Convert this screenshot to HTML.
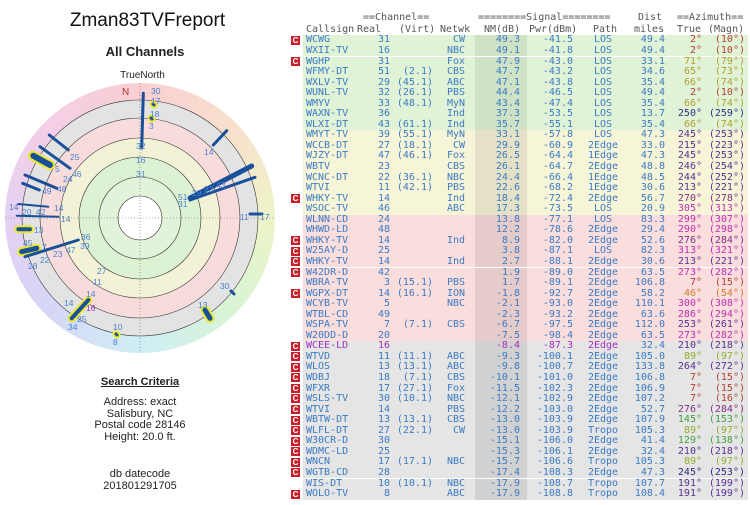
<!DOCTYPE html>
<html><head><meta charset="utf-8"><style>
*{margin:0;padding:0;box-sizing:border-box}
body{width:750px;height:505px;overflow:hidden;background:#fff;position:relative;font-family:"Liberation Sans",Arial,sans-serif}
.t{position:absolute;white-space:nowrap}
.tb{position:absolute;font-family:"DejaVu Sans Mono","Liberation Mono",monospace;font-size:10px;color:#555}
.r{position:absolute;left:303px;width:445px;height:10.55px;font-family:"DejaVu Sans Mono","Liberation Mono",monospace;font-size:10px;line-height:10.55px;color:#3b7bc4}
.r span{position:absolute;top:0;white-space:nowrap}
.r::before{content:"";position:absolute;left:172px;width:52px;top:0;height:100%}
.g{background:#e0f3d7}.g::before{background:#cfe2c6}
.y{background:#f6f5d8}.y::before{background:#e4e1c6}
.p{background:#fadddd}.p::before{background:#e6cbcb}
.k{background:#e5e5e5}.k::before{background:#d1d1d1}
.a{left:3px}
.b{left:47px;width:40px;text-align:right}
.c{left:90px;width:40px;text-align:right}
.d{left:132px;width:30px;text-align:right}
.e{left:177px;width:40px;text-align:right}
.f{left:225px;width:45px;text-align:right}
.h{left:280px;width:40px;text-align:center}
.i{left:322px;width:40px;text-align:right}
.j{left:367px;width:32px;text-align:right}
.m{left:402px;width:40px;text-align:right}
.C{position:absolute;left:291px;width:9px;height:9px;background:#c8202a;color:#fff;font:bold 8px/9px "Liberation Sans",sans-serif;text-align:center}
.q1{color:#b04030}.q2{color:#b0a030}.q3{color:#302c80}.q4{color:#5a3090}.q5{color:#c030b0}.q6{color:#d08030}.q7{color:#90b030}.q8{color:#40a040}.q9{color:#803080}
.pu{color:#a030c0}
</style></head><body>
<div class="t" style="left:0;width:295px;text-align:center;top:10px;font-size:19px;color:#111">Zman83TVFreport</div>
<div class="t" style="left:0;width:290px;text-align:center;top:44px;font-size:13px;font-weight:bold;color:#222">All Channels</div>
<div class="t" style="left:0;width:285px;text-align:center;top:70px;font-size:10px;color:#222">TrueNorth</div>

<div style="position:absolute;left:5px;top:83px;width:270px;height:270px;border-radius:50%;background:conic-gradient(#f9cfd2 0deg,#f8e0cc 45deg,#eef4c8 90deg,#d8f4d4 135deg,#cfeef6 180deg,#d6d6f6 225deg,#e6d0f2 270deg,#f4cfe6 315deg,#f9cfd2 360deg)"></div>
<svg style="position:absolute;left:0;top:0" width="290" height="360" viewBox="0 0 290 360">
<g stroke="#333" stroke-width="0.6">
<circle cx="140" cy="218" r="118" fill="#e3e3e3"/>
<circle cx="140" cy="218" r="100" fill="#f8dcdc"/>
<circle cx="140" cy="218" r="80" fill="#f3f2d6"/>
<circle cx="140" cy="218" r="61" fill="#ddf1d3"/>
<circle cx="140" cy="218" r="41" fill="#e2f3d9"/>
<circle cx="140" cy="218" r="22" fill="#fff"/>
</g>
<g stroke="#666" stroke-width="0.6" stroke-dasharray="1,2">
<line x1="140" y1="83" x2="140" y2="353"/><line x1="5" y1="218" x2="275" y2="218"/>
</g>
<text x="122" y="95" font-size="10" fill="#c03030" font-family="Liberation Sans">N</text>
<g stroke="#e8e830" stroke-linecap="round" fill="none">
<line x1="33" y1="155.7" x2="50" y2="165" stroke-width="10"/>
<line x1="18.3" y1="229.3" x2="30" y2="229.3" stroke-width="8"/>
<line x1="21.7" y1="251.7" x2="36.7" y2="248.3" stroke-width="9"/>
<line x1="71.7" y1="318.3" x2="88.3" y2="300" stroke-width="8"/>
<line x1="205" y1="310" x2="210" y2="318.3" stroke-width="9"/>
<line x1="153" y1="104" x2="154" y2="105" stroke-width="7"/>
<line x1="151" y1="118" x2="152" y2="119" stroke-width="7"/>
<line x1="116" y1="334" x2="117" y2="335" stroke-width="7"/>
</g>
<g stroke="#1a4f9a" stroke-linecap="round" fill="none">
<line x1="143.3" y1="93.3" x2="141.7" y2="148" stroke-width="3"/>
<line x1="226.7" y1="130.7" x2="213.3" y2="145" stroke-width="3"/>
<line x1="251.7" y1="166" x2="190" y2="198" stroke-width="5"/>
<line x1="255" y1="177.3" x2="190" y2="200" stroke-width="3"/>
<line x1="250" y1="214" x2="262" y2="214" stroke-width="3"/>
<line x1="49.3" y1="135" x2="68.3" y2="150" stroke-width="3"/>
<line x1="40" y1="146.7" x2="70" y2="168.3" stroke-width="3"/>
<line x1="33.3" y1="155.7" x2="50" y2="165" stroke-width="6"/>
<line x1="25" y1="175" x2="56.7" y2="188.3" stroke-width="3"/>
<line x1="22.7" y1="183.3" x2="39.3" y2="190" stroke-width="3"/>
<line x1="18.3" y1="204" x2="48.3" y2="206.7" stroke-width="2"/>
<line x1="16.7" y1="215.7" x2="58.3" y2="216.7" stroke-width="2"/>
<line x1="18.3" y1="229.3" x2="30" y2="229.3" stroke-width="4"/>
<line x1="25" y1="256.7" x2="78.3" y2="240" stroke-width="3"/>
<line x1="21.7" y1="251.7" x2="36.7" y2="248.3" stroke-width="5"/>
<line x1="71.7" y1="318.3" x2="88.3" y2="300" stroke-width="4"/>
<line x1="205" y1="310" x2="210" y2="318.3" stroke-width="5"/>
<line x1="231" y1="291" x2="234" y2="294" stroke-width="3"/>
<line x1="153" y1="104" x2="154" y2="105" stroke-width="3"/>
<line x1="151" y1="118" x2="152" y2="119" stroke-width="3"/>
<line x1="116" y1="334" x2="117" y2="335" stroke-width="3"/>
</g>
<g font-family="Liberation Sans" font-size="8.5" fill="#4a80d0">
<text x="151" y="94">30</text><text x="151" y="104">17</text><text x="150" y="117">18</text><text x="149" y="129">3</text>
<text x="136" y="149">32</text><text x="136" y="163">16</text><text x="136" y="177">31</text><text x="204" y="155">14</text>
<text x="178" y="200">51</text><text x="192" y="196">29</text><text x="204" y="192">33</text><text x="216" y="188">43</text><text x="178" y="207">31</text>
<text x="240" y="220">11</text><text x="260" y="220">17</text>
<text x="70" y="160">25</text><text x="55" y="172">5</text><text x="72" y="177">46</text><text x="63" y="182">24</text><text x="57" y="192">48</text><text x="42" y="194">49</text>
<text x="9" y="210">14</text><text x="22" y="215">20</text><text x="36" y="215">42</text><text x="54" y="211">14</text><text x="61" y="222">14</text>
<text x="34" y="233">13</text><text x="23" y="246">45</text><text x="42" y="250">7</text><text x="81" y="240">36</text><text x="80" y="249">39</text>
<text x="66" y="253">47</text><text x="53" y="257">23</text><text x="40" y="263">22</text><text x="28" y="269">28</text>
<text x="97" y="274">27</text><text x="93" y="285">11</text><text x="86" y="297">14</text><text x="64" y="306">14</text>
<text x="86" y="311" fill="#a030c0">16</text><text x="77" y="322">25</text><text x="68" y="330">34</text>
<text x="113" y="330">10</text><text x="113" y="345">8</text><text x="220" y="289">30</text><text x="198" y="308">13</text>
</g>
</svg>

<div class="t" style="left:0;width:280px;text-align:center;top:376px;font-size:11px;font-weight:bold;color:#222;text-decoration:underline">Search Criteria</div>
<div class="t" style="left:0;width:280px;text-align:center;top:397px;font-size:11px;line-height:11.5px;color:#222">Address: exact<br>Salisbury, NC<br>Postal code 28146<br>Height: 20.0 ft.</div>
<div class="t" style="left:0;width:280px;text-align:center;top:468px;font-size:11px;line-height:12px;color:#222">db datecode<br>201801291705</div>

<div class="tb" style="left:363px;top:12px">==Channel==</div>
<div class="tb" style="left:478px;top:12px">========Signal========</div>
<div class="tb" style="left:638px;top:12px">Dist</div>
<div class="tb" style="left:677px;top:12px">==Azimuth==</div>
<div class="tb" style="left:306px;top:24px">Callsign</div>
<div class="tb" style="left:357px;top:24px">Real</div>
<div class="tb" style="left:399px;top:24px">(Virt)</div>
<div class="tb" style="left:440px;top:24px">Netwk</div>
<div class="tb" style="left:484px;top:24px">NM(dB)</div>
<div class="tb" style="left:529px;top:24px">Pwr(dBm)</div>
<div class="tb" style="left:593px;top:24px">Path</div>
<div class="tb" style="left:634px;top:24px">miles</div>
<div class="tb" style="left:677px;top:24px">True</div>
<div class="tb" style="left:708px;top:24px">(Magn)</div>

<div class="r g" style="top:35.4px"><span class="a">WCWG</span><span class="b">31</span><span class="c"></span><span class="d">CW</span><span class="e">49.3</span><span class="f">-41.5</span><span class="h">LOS</span><span class="i">49.4</span><span class="j q1">2°</span><span class="m q1">(10°)</span></div>
<div class="r g" style="top:45.95px"><span class="a">WXII-TV</span><span class="b">16</span><span class="d">NBC</span><span class="e">49.1</span><span class="f">-41.8</span><span class="h">LOS</span><span class="i">49.4</span><span class="j q1">2°</span><span class="m q1">(10°)</span></div>
<div class="r g" style="top:56.5px"><span class="a">WGHP</span><span class="b">31</span><span class="d">Fox</span><span class="e">47.9</span><span class="f">-43.0</span><span class="h">LOS</span><span class="i">33.1</span><span class="j q2">71°</span><span class="m q2">(79°)</span></div>
<div class="r g" style="top:67.05px"><span class="a">WFMY-DT</span><span class="b">51</span><span class="c">(2.1)</span><span class="d">CBS</span><span class="e">47.7</span><span class="f">-43.2</span><span class="h">LOS</span><span class="i">34.6</span><span class="j q2">65°</span><span class="m q2">(73°)</span></div>
<div class="r g" style="top:77.6px"><span class="a">WXLV-TV</span><span class="b">29</span><span class="c">(45.1)</span><span class="d">ABC</span><span class="e">47.1</span><span class="f">-43.8</span><span class="h">LOS</span><span class="i">35.4</span><span class="j q2">66°</span><span class="m q2">(74°)</span></div>
<div class="r g" style="top:88.15px"><span class="a">WUNL-TV</span><span class="b">32</span><span class="c">(26.1)</span><span class="d">PBS</span><span class="e">44.4</span><span class="f">-46.5</span><span class="h">LOS</span><span class="i">49.4</span><span class="j q1">2°</span><span class="m q1">(10°)</span></div>
<div class="r g" style="top:98.7px"><span class="a">WMYV</span><span class="b">33</span><span class="c">(48.1)</span><span class="d">MyN</span><span class="e">43.4</span><span class="f">-47.4</span><span class="h">LOS</span><span class="i">35.4</span><span class="j q2">66°</span><span class="m q2">(74°)</span></div>
<div class="r g" style="top:109.25px"><span class="a">WAXN-TV</span><span class="b">36</span><span class="d">Ind</span><span class="e">37.3</span><span class="f">-53.5</span><span class="h">LOS</span><span class="i">13.7</span><span class="j q3">250°</span><span class="m q3">(259°)</span></div>
<div class="r g" style="top:119.8px"><span class="a">WLXI-DT</span><span class="b">43</span><span class="c">(61.1)</span><span class="d">Ind</span><span class="e">35.7</span><span class="f">-55.1</span><span class="h">LOS</span><span class="i">35.4</span><span class="j q2">66°</span><span class="m q2">(74°)</span></div>
<div class="r y" style="top:130.35px"><span class="a">WMYT-TV</span><span class="b">39</span><span class="c">(55.1)</span><span class="d">MyN</span><span class="e">33.1</span><span class="f">-57.8</span><span class="h">LOS</span><span class="i">47.3</span><span class="j q4">245°</span><span class="m q4">(253°)</span></div>
<div class="r y" style="top:140.9px"><span class="a">WCCB-DT</span><span class="b">27</span><span class="c">(18.1)</span><span class="d">CW</span><span class="e">29.9</span><span class="f">-60.9</span><span class="h">2Edge</span><span class="i">33.0</span><span class="j q4">215°</span><span class="m q4">(223°)</span></div>
<div class="r y" style="top:151.45px"><span class="a">WJZY-DT</span><span class="b">47</span><span class="c">(46.1)</span><span class="d">Fox</span><span class="e">26.5</span><span class="f">-64.4</span><span class="h">1Edge</span><span class="i">47.3</span><span class="j q4">245°</span><span class="m q4">(253°)</span></div>
<div class="r y" style="top:162px"><span class="a">WBTV</span><span class="b">23</span><span class="d">CBS</span><span class="e">26.1</span><span class="f">-64.7</span><span class="h">2Edge</span><span class="i">48.8</span><span class="j q4">246°</span><span class="m q4">(254°)</span></div>
<div class="r y" style="top:172.55px"><span class="a">WCNC-DT</span><span class="b">22</span><span class="c">(36.1)</span><span class="d">NBC</span><span class="e">24.4</span><span class="f">-66.4</span><span class="h">1Edge</span><span class="i">48.5</span><span class="j q4">244°</span><span class="m q4">(252°)</span></div>
<div class="r y" style="top:183.1px"><span class="a">WTVI</span><span class="b">11</span><span class="c">(42.1)</span><span class="d">PBS</span><span class="e">22.6</span><span class="f">-68.2</span><span class="h">1Edge</span><span class="i">30.6</span><span class="j q4">213°</span><span class="m q4">(221°)</span></div>
<div class="r y" style="top:193.65px"><span class="a">WHKY-TV</span><span class="b">14</span><span class="d">Ind</span><span class="e">18.4</span><span class="f">-72.4</span><span class="h">2Edge</span><span class="i">56.7</span><span class="j q9">270°</span><span class="m q9">(278°)</span></div>
<div class="r y" style="top:204.2px"><span class="a">WSOC-TV</span><span class="b">46</span><span class="d">ABC</span><span class="e">17.3</span><span class="f">-73.5</span><span class="h">LOS</span><span class="i">20.9</span><span class="j q5">305°</span><span class="m q5">(313°)</span></div>
<div class="r p" style="top:214.75px"><span class="a">WLNN-CD</span><span class="b">24</span><span class="e">13.8</span><span class="f">-77.1</span><span class="h">LOS</span><span class="i">83.3</span><span class="j q5">299°</span><span class="m q5">(307°)</span></div>
<div class="r p" style="top:225.3px"><span class="a">WHWD-LD</span><span class="b">48</span><span class="e">12.2</span><span class="f">-78.6</span><span class="h">2Edge</span><span class="i">29.4</span><span class="j q5">290°</span><span class="m q5">(298°)</span></div>
<div class="r p" style="top:235.85px"><span class="a">WHKY-TV</span><span class="b">14</span><span class="d">Ind</span><span class="e">8.9</span><span class="f">-82.0</span><span class="h">2Edge</span><span class="i">52.6</span><span class="j q9">276°</span><span class="m q9">(284°)</span></div>
<div class="r p" style="top:246.4px"><span class="a">W25AY-D</span><span class="b">25</span><span class="e">3.8</span><span class="f">-87.1</span><span class="h">LOS</span><span class="i">82.3</span><span class="j q5">313°</span><span class="m q5">(321°)</span></div>
<div class="r p" style="top:256.95px"><span class="a">WHKY-TV</span><span class="b">14</span><span class="d">Ind</span><span class="e">2.7</span><span class="f">-88.1</span><span class="h">2Edge</span><span class="i">30.6</span><span class="j q4">213°</span><span class="m q4">(221°)</span></div>
<div class="r p" style="top:267.5px"><span class="a">W42DR-D</span><span class="b">42</span><span class="e">1.9</span><span class="f">-89.0</span><span class="h">2Edge</span><span class="i">63.5</span><span class="j q5">273°</span><span class="m q5">(282°)</span></div>
<div class="r p" style="top:278.05px"><span class="a">WBRA-TV</span><span class="b">3</span><span class="c">(15.1)</span><span class="d">PBS</span><span class="e">1.7</span><span class="f">-89.1</span><span class="h">2Edge</span><span class="i">106.8</span><span class="j q1">7°</span><span class="m q1">(15°)</span></div>
<div class="r p" style="top:288.6px"><span class="a">WGPX-DT</span><span class="b">14</span><span class="c">(16.1)</span><span class="d">ION</span><span class="e">-1.8</span><span class="f">-92.7</span><span class="h">2Edge</span><span class="i">58.2</span><span class="j q6">46°</span><span class="m q6">(54°)</span></div>
<div class="r p" style="top:299.15px"><span class="a">WCYB-TV</span><span class="b">5</span><span class="d">NBC</span><span class="e">-2.1</span><span class="f">-93.0</span><span class="h">2Edge</span><span class="i">110.1</span><span class="j q5">300°</span><span class="m q5">(308°)</span></div>
<div class="r p" style="top:309.7px"><span class="a">WTBL-CD</span><span class="b">49</span><span class="e">-2.3</span><span class="f">-93.2</span><span class="h">2Edge</span><span class="i">63.6</span><span class="j q5">286°</span><span class="m q5">(294°)</span></div>
<div class="r p" style="top:320.25px"><span class="a">WSPA-TV</span><span class="b">7</span><span class="c">(7.1)</span><span class="d">CBS</span><span class="e">-6.7</span><span class="f">-97.5</span><span class="h">2Edge</span><span class="i">112.0</span><span class="j q4">253°</span><span class="m q4">(261°)</span></div>
<div class="r p" style="top:330.8px"><span class="a">W20DD-D</span><span class="b">20</span><span class="e">-7.5</span><span class="f">-98.4</span><span class="h">2Edge</span><span class="i">63.5</span><span class="j q5">273°</span><span class="m q5">(282°)</span></div>
<div class="r k" style="top:341.35px"><span class="a pu">WCEE-LD</span><span class="b pu">16</span><span class="e pu">-8.4</span><span class="f pu">-87.3</span><span class="h pu">2Edge</span><span class="i">32.4</span><span class="j q4">210°</span><span class="m q4">(218°)</span></div>
<div class="r k" style="top:351.9px"><span class="a">WTVD</span><span class="b">11</span><span class="c">(11.1)</span><span class="d">ABC</span><span class="e">-9.3</span><span class="f">-100.1</span><span class="h">2Edge</span><span class="i">105.0</span><span class="j q7">89°</span><span class="m q7">(97°)</span></div>
<div class="r k" style="top:362.45px"><span class="a">WLOS</span><span class="b">13</span><span class="c">(13.1)</span><span class="d">ABC</span><span class="e">-9.8</span><span class="f">-100.7</span><span class="h">2Edge</span><span class="i">133.8</span><span class="j q4">264°</span><span class="m q4">(272°)</span></div>
<div class="r k" style="top:373px"><span class="a">WDBJ</span><span class="b">18</span><span class="c">(7.1)</span><span class="d">CBS</span><span class="e">-10.1</span><span class="f">-101.0</span><span class="h">2Edge</span><span class="i">106.8</span><span class="j q1">7°</span><span class="m q1">(15°)</span></div>
<div class="r k" style="top:383.55px"><span class="a">WFXR</span><span class="b">17</span><span class="c">(27.1)</span><span class="d">Fox</span><span class="e">-11.5</span><span class="f">-102.3</span><span class="h">2Edge</span><span class="i">106.9</span><span class="j q1">7°</span><span class="m q1">(15°)</span></div>
<div class="r k" style="top:394.1px"><span class="a">WSLS-TV</span><span class="b">30</span><span class="c">(10.1)</span><span class="d">NBC</span><span class="e">-12.1</span><span class="f">-102.9</span><span class="h">2Edge</span><span class="i">107.2</span><span class="j q1">7°</span><span class="m q1">(16°)</span></div>
<div class="r k" style="top:404.65px"><span class="a">WTVI</span><span class="b">14</span><span class="d">PBS</span><span class="e">-12.2</span><span class="f">-103.0</span><span class="h">2Edge</span><span class="i">52.7</span><span class="j q9">276°</span><span class="m q9">(284°)</span></div>
<div class="r k" style="top:415.2px"><span class="a">WBTW-DT</span><span class="b">13</span><span class="c">(13.1)</span><span class="d">CBS</span><span class="e">-13.0</span><span class="f">-103.9</span><span class="h">2Edge</span><span class="i">107.9</span><span class="j q8">145°</span><span class="m q8">(153°)</span></div>
<div class="r k" style="top:425.75px"><span class="a">WLFL-DT</span><span class="b">27</span><span class="c">(22.1)</span><span class="d">CW</span><span class="e">-13.0</span><span class="f">-103.9</span><span class="h">Tropo</span><span class="i">105.3</span><span class="j q7">89°</span><span class="m q7">(97°)</span></div>
<div class="r k" style="top:436.3px"><span class="a">W30CR-D</span><span class="b">30</span><span class="e">-15.1</span><span class="f">-106.0</span><span class="h">2Edge</span><span class="i">41.4</span><span class="j q8">129°</span><span class="m q8">(138°)</span></div>
<div class="r k" style="top:446.85px"><span class="a">WDMC-LD</span><span class="b">25</span><span class="e">-15.3</span><span class="f">-106.1</span><span class="h">2Edge</span><span class="i">32.4</span><span class="j q4">210°</span><span class="m q4">(218°)</span></div>
<div class="r k" style="top:457.4px"><span class="a">WNCN</span><span class="b">17</span><span class="c">(17.1)</span><span class="d">NBC</span><span class="e">-15.7</span><span class="f">-106.6</span><span class="h">Tropo</span><span class="i">105.3</span><span class="j q7">89°</span><span class="m q7">(97°)</span></div>
<div class="r k" style="top:467.95px"><span class="a">WGTB-CD</span><span class="b">28</span><span class="e">-17.4</span><span class="f">-108.3</span><span class="h">2Edge</span><span class="i">47.3</span><span class="j q3">245°</span><span class="m q3">(253°)</span></div>
<div class="r k" style="top:478.5px"><span class="a">WIS-DT</span><span class="b">10</span><span class="c">(10.1)</span><span class="d">NBC</span><span class="e">-17.9</span><span class="f">-108.7</span><span class="h">Tropo</span><span class="i">107.7</span><span class="j q4">191°</span><span class="m q4">(199°)</span></div>
<div class="r k" style="top:489.05px"><span class="a">WOLO-TV</span><span class="b">8</span><span class="d">ABC</span><span class="e">-17.9</span><span class="f">-108.8</span><span class="h">Tropo</span><span class="i">108.4</span><span class="j q4">191°</span><span class="m q4">(199°)</span></div>

<div class="C" style="top:36px">C</div>
<div class="C" style="top:57px">C</div>
<div class="C" style="top:194px">C</div>
<div class="C" style="top:236px">C</div>
<div class="C" style="top:247px">C</div>
<div class="C" style="top:257px">C</div>
<div class="C" style="top:268px">C</div>
<div class="C" style="top:289px">C</div>
<div class="C" style="top:342px">C</div>
<div class="C" style="top:352px">C</div>
<div class="C" style="top:363px">C</div>
<div class="C" style="top:373px">C</div>
<div class="C" style="top:384px">C</div>
<div class="C" style="top:394px">C</div>
<div class="C" style="top:405px">C</div>
<div class="C" style="top:416px">C</div>
<div class="C" style="top:426px">C</div>
<div class="C" style="top:437px">C</div>
<div class="C" style="top:447px">C</div>
<div class="C" style="top:458px">C</div>
<div class="C" style="top:468px">C</div>
<div class="C" style="top:490px">C</div>
</body></html>
